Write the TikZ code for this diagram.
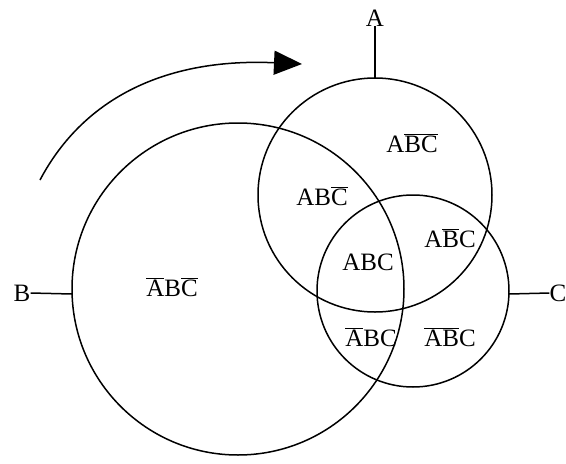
\documentclass[tikz,border=0pt]{standalone}
\usepackage{fontspec}
\setmainfont{Liberation Serif}
\usetikzlibrary{arrows.meta}
\newcommand{\ovl}[1]{\ensuremath{\overline{\mbox{#1}}}}
\begin{document}
\begin{tikzpicture}[x=1pt,y=-1pt,
  setline/.style={line width=1.5pt,black},
  region/.style={font=\fontsize{25}{27}\selectfont,inner sep=0pt},
  setname/.style={font=\fontsize{25}{27}\selectfont,inner sep=0pt}]
\useasboundingbox (0,0) rectangle (566,464);
% the three sets
\draw[setline] (375,195) circle (117);
\draw[setline] (238,289) circle (166);
\draw[setline] (413,291) circle (96);
% set name tabs
\coordinate (ta) at (375,78);
\coordinate (tb) at (72,294);
\coordinate (tc) at (509,294);
\node[setname] (la) at (375,18) {A};
\node[setname] (lb) at (22,293) {B};
\node[setname] (lc) at (558,293) {C};
\draw[setline] (ta) -- (la.south);
\draw[setline] (tb) -- (lb.east);
\draw[setline] (tc) -- (lc.west);
% region labels
\node[region] (r1) at (412,143) {A\ovl{B}\ovl{C}};
\node[region] (r2) at (322,196) {AB\ovl{C}};
\node[region] (r3) at (450,238) {A\ovl{B}C};
\node[region] (r4) at (368,262) {ABC};
\node[region] (r5) at (371,337) {\ovl{A}BC};
\node[region] (r6) at (450,337) {\ovl{A}\ovl{B}C};
\node[region] (r7) at (172,287) {\ovl{A}B\ovl{C}};
% rotation arrow
\coordinate (s0) at (40,180);
\coordinate (s1) at (302,64);
\draw[setline,-{Triangle[length=28pt,width=24pt]}] (s0) .. controls (85,95) and (170,58) .. (s1);
\end{tikzpicture}
\end{document}
